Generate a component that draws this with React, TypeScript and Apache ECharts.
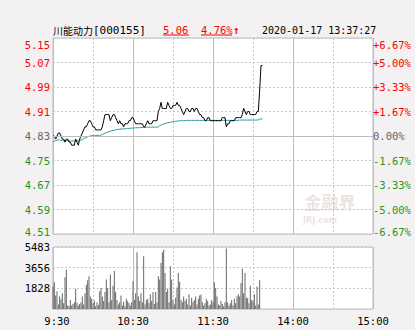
import React, { useEffect, useRef } from 'react';
import * as echarts from 'echarts';

const stockName = '川能动力';
const stockCode = '[000155]';
const lastPrice = '5.06';
const changePct = '4.76%';
const changeArrow = '↑';
const timestamp = '2020-01-17 13:37:27';

const prevClose = 4.83;
const priceMin = 4.51;
const priceMax = 5.15;
const priceStep = 0.08;
const pctLimit = 6.67;
const pctStep = 1.6675;
const volMax = 5483;
const volLabels = ['', '1828', '3656', '5483'];
const timeTickMinutes = [0, 60, 120, 180, 240];
const timeTickLabels = ['9:30', '10:30', '11:30', '14:00', '15:00'];

const priceVals = [
  4.83, 4.83, 4.82, 4.83, 4.84, 4.84, 4.83, 4.82, 4.82, 4.81,
  4.82, 4.82, 4.81, 4.81, 4.80, 4.80, 4.80, 4.82, 4.81, 4.80,
  4.82, 4.83, 4.84, 4.85, 4.86, 4.86, 4.87, 4.88, 4.88, 4.87,
  4.86, 4.86, 4.85, 4.85, 4.85, 4.85, 4.85, 4.86, 4.88, 4.90,
  4.90, 4.90, 4.90, 4.88, 4.89, 4.90, 4.90, 4.89, 4.88, 4.87,
  4.88, 4.87, 4.87, 4.86, 4.87, 4.87, 4.87, 4.88, 4.88, 4.89,
  4.89, 4.88, 4.87, 4.87, 4.87, 4.87, 4.87, 4.87, 4.86, 4.86,
  4.87, 4.88, 4.87, 4.87, 4.87, 4.88, 4.88, 4.88, 4.88, 4.91,
  4.92, 4.94, 4.92, 4.92, 4.92, 4.92, 4.94, 4.93, 4.92, 4.92,
  4.93, 4.93, 4.93, 4.94, 4.93, 4.93, 4.92, 4.91, 4.90, 4.91,
  4.92, 4.92, 4.91, 4.91, 4.92, 4.92, 4.91, 4.92, 4.92, 4.91,
  4.90, 4.90, 4.89, 4.89, 4.88, 4.88, 4.89, 4.89, 4.88, 4.88,
  4.88, 4.88, 4.88, 4.88, 4.88, 4.88, 4.88, 4.89, 4.89, 4.89,
  4.86, 4.87, 4.87, 4.88, 4.88, 4.88, 4.88, 4.89, 4.89, 4.89,
  4.89, 4.89, 4.90, 4.92, 4.91, 4.90, 4.91, 4.91, 4.90, 4.90,
  4.90, 4.90, 4.90, 4.91, 4.91, 4.98, 5.06, 5.06,
];

const avgVals = [
  4.812, 4.813, 4.815, 4.816, 4.818, 4.817, 4.816, 4.816, 4.815, 4.815,
  4.815, 4.815, 4.814, 4.814, 4.814, 4.814, 4.814, 4.814, 4.814, 4.814,
  4.815, 4.817, 4.819, 4.821, 4.823, 4.825, 4.827, 4.829, 4.830, 4.831,
  4.831, 4.831, 4.832, 4.832, 4.832, 4.832, 4.833, 4.835, 4.837, 4.839,
  4.841, 4.842, 4.844, 4.845, 4.847, 4.848, 4.849, 4.850, 4.851, 4.852,
  4.852, 4.853, 4.853, 4.853, 4.854, 4.854, 4.855, 4.855, 4.855, 4.856,
  4.856, 4.856, 4.857, 4.857, 4.857, 4.857, 4.858, 4.858, 4.858, 4.858,
  4.858, 4.859, 4.859, 4.859, 4.859, 4.859, 4.859, 4.859, 4.859, 4.860,
  4.863, 4.866, 4.868, 4.869, 4.871, 4.872, 4.873, 4.874, 4.875, 4.876,
  4.877, 4.878, 4.878, 4.879, 4.879, 4.880, 4.880, 4.880, 4.880, 4.880,
  4.881, 4.881, 4.881, 4.881, 4.881, 4.881, 4.881, 4.881, 4.881, 4.881,
  4.881, 4.881, 4.881, 4.881, 4.881, 4.881, 4.881, 4.881, 4.881, 4.881,
  4.881, 4.881, 4.881, 4.881, 4.881, 4.881, 4.881, 4.881, 4.881, 4.881,
  4.881, 4.881, 4.881, 4.881, 4.881, 4.881, 4.881, 4.881, 4.881, 4.881,
  4.882, 4.882, 4.882, 4.882, 4.882, 4.882, 4.882, 4.882, 4.882, 4.882,
  4.882, 4.882, 4.882, 4.882, 4.883, 4.885, 4.886, 4.886,
];

const volVals = [
  2000, 2360, 1200, 1560, 400, 1100, 850, 1400, 500, 2800,
  3480, 300, 250, 800, 300, 450, 600, 1770, 550, 300,
  450, 600, 1100, 400, 1400, 2150, 2540, 2890, 1100, 900,
  500, 750, 250, 600, 350, 1560, 1860, 1100, 700, 1500,
  2600, 1860, 600, 3040, 800, 2065, 3390, 1500, 800, 400,
  600, 1200, 300, 650, 250, 900, 700, 500, 300, 600,
  2450, 800, 1400, 5015, 1100, 700, 1400, 600, 4660, 400,
  800, 900, 500, 1300, 700, 1500, 450, 1500, 600, 2890,
  2600, 4070, 5015, 5250, 3190, 1500, 1800, 600, 3780, 2600,
  800, 400, 1000, 1900, 3190, 2400, 800, 600, 1100, 700,
  900, 400, 1300, 300, 1000, 600, 800, 1100, 400, 900,
  1200, 1270, 600, 300, 500, 900, 700, 300, 400, 800,
  600, 2360, 1860, 1100, 400, 300, 700, 450, 250, 600,
  5340, 600, 300, 500, 800, 300, 900, 500, 1120, 1300,
  1100, 2300, 3570, 1400, 3190, 1000, 950, 500, 2065, 800,
  700, 1300, 300, 2000, 400, 2540,
];

const MONO = '"DejaVu Sans Mono", monospace';
const CJK = '"Noto Sans CJK SC", sans-serif';
const RED = '#ff0000';
const GREEN = '#1f961f';
const GRAY = '#666666';
const GRID_LINE = '#c8c8c8';
const BORDER = '#bdbdbd';

export default function App() {
  const ref = useRef<HTMLDivElement>(null);

  useEffect(() => {
    if (!ref.current) return;
    const chart = echarts.init(ref.current, undefined, { renderer: 'svg' });

    const richBase = {
      r: { color: RED, fontFamily: MONO, fontSize: 10.5 },
      g: { color: GREEN, fontFamily: MONO, fontSize: 10.5 },
      n: { color: GRAY, fontFamily: MONO, fontSize: 10.5 },
      rt: { color: RED, fontFamily: MONO, fontSize: 10.5, padding: [13, 0, 0, 0] },
      gb: { color: GREEN, fontFamily: MONO, fontSize: 10.5, padding: [0, 0, 5, 0] },
    };

    const eq = (a: number, b: number) => Math.abs(a - b) < 1e-6;

    const priceFmt = (v: number) => {
      const s = v.toFixed(2);
      if (eq(v, prevClose)) return `{n|${s}}`;
      if (eq(v, priceMax)) return `{rt|${s}}`;
      if (eq(v, priceMin)) return `{gb|${s}}`;
      return v > prevClose ? `{r|${s}}` : `{g|${s}}`;
    };

    const pctFmt = (v: number) => {
      if (Math.abs(v) < 1e-6) return '{n|0.00%}';
      const s = Math.abs(v).toFixed(2);
      if (eq(v, pctLimit)) return `{rt|+${s}%}`;
      if (eq(v, -pctLimit)) return `{gb|-${s}%}`;
      return v > 0 ? `{r|+${s}%}` : `{g|-${s}%}`;
    };

    const timeFmt = (v: number) => {
      const i = timeTickMinutes.indexOf(Math.round(v));
      if (i < 0) return '';
      if (i === 0) return `{first|${timeTickLabels[i]}}`;
      return `{t|${timeTickLabels[i]}}`;
    };

    const gridStyle = { show: true, backgroundColor: '#ffffff', borderColor: BORDER, borderWidth: 1 };

    const dashedX = (gridIndex: number) => ({
      type: 'value', gridIndex, min: 0, max: 240, interval: 30, position: 'bottom',
      axisLine: { show: false }, axisTick: { show: false }, axisLabel: { show: false },
      splitLine: { show: true, lineStyle: { color: GRID_LINE, type: [2, 2], width: 1 } },
    });
    const solidX = (gridIndex: number, labels: boolean) => ({
      type: 'value', gridIndex, min: 0, max: 240, interval: 60, position: 'bottom',
      axisLine: { show: false }, axisTick: { show: false },
      axisLabel: labels
        ? {
            show: true, margin: 6, formatter: timeFmt,
            rich: {
              t: { color: '#000', fontFamily: MONO, fontSize: 10.5 },
              first: { color: '#000', fontFamily: MONO, fontSize: 10.5, padding: [0, 0, 0, 8] },
            },
          }
        : { show: false },
      splitLine: { show: true, lineStyle: { color: BORDER, type: 'solid', width: 1 } },
    });

    const option: any = {
      animation: false,
      backgroundColor: '#f3f1f1',
      textStyle: { fontFamily: MONO },
      grid: [
        { left: 53, top: 38, width: 320, height: 196, ...gridStyle },
        { left: 53, top: 247, width: 320, height: 62, ...gridStyle },
      ],
      xAxis: [dashedX(0), solidX(0, false), dashedX(1), solidX(1, true)],
      yAxis: [
        {
          type: 'value', gridIndex: 0, position: 'left', min: priceMin, max: priceMax, interval: priceStep,
          axisLine: { show: false }, axisTick: { show: false },
          axisLabel: { margin: 3, formatter: priceFmt, rich: richBase },
          splitLine: { show: true, lineStyle: { color: GRID_LINE, type: [2, 2], width: 1 } },
        },
        {
          type: 'value', gridIndex: 0, position: 'right', min: -pctLimit, max: pctLimit, interval: pctStep,
          axisLine: { show: false }, axisTick: { show: false },
          axisLabel: { margin: 0, formatter: pctFmt, rich: richBase },
          splitLine: { show: false },
        },
        {
          type: 'value', gridIndex: 1, position: 'left', min: 0, max: volMax, interval: volMax / 3,
          axisLine: { show: false }, axisTick: { show: false },
          axisLabel: {
            margin: 3, color: '#000', fontFamily: MONO, fontSize: 10.5,
            formatter: (_v: number, i: number) => volLabels[i] ?? '',
          },
          splitLine: { show: true, lineStyle: { color: GRID_LINE, type: [2, 2], width: 1 } },
        },
      ],
      series: [
        {
          type: 'line', xAxisIndex: 0, yAxisIndex: 0, data: [], z: 1, silent: true,
          markLine: {
            silent: true, symbol: 'none', label: { show: false },
            lineStyle: { color: BORDER, type: 'solid', width: 1 },
            data: [{ yAxis: prevClose }],
          },
        },
        {
          name: 'avg', type: 'line', xAxisIndex: 0, yAxisIndex: 0, z: 3,
          data: avgVals.map((v, i) => [i, v]), showSymbol: false, symbol: 'none',
          lineStyle: { color: '#2a9a98', width: 1 },
        },
        {
          name: 'price', type: 'line', xAxisIndex: 0, yAxisIndex: 0, z: 4,
          data: priceVals.map((v, i) => [i, v]), showSymbol: false, symbol: 'none',
          lineStyle: { color: '#000000', width: 1 },
        },
        {
          name: 'vol', type: 'bar', xAxisIndex: 2, yAxisIndex: 2,
          data: volVals.map((v, i) => [i, v]), barWidth: 1,
          itemStyle: { color: '#666666' },
        },
      ],
      graphic: [
        {
          type: 'text', x: 330, y: 201, z: 0, silent: true,
          style: { text: '金融界', fill: 'rgba(215,190,190,0.45)', font: `bold 17px ${CJK}`, align: 'center', verticalAlign: 'middle' },
        },
        {
          type: 'text', x: 320, y: 220, z: 0, silent: true,
          style: { text: 'JRJ.com', fill: 'rgba(215,190,190,0.45)', font: 'bold 8px "DejaVu Sans", sans-serif', align: 'center', verticalAlign: 'middle' },
        },
        {
          type: 'text', x: 53, y: 30,
          style: { text: stockName, fill: '#000', font: `10px ${CJK}`, align: 'left', verticalAlign: 'middle' },
        },
        {
          type: 'text', x: 93, y: 30,
          style: { text: stockCode, fill: '#000', font: `11px ${MONO}`, align: 'left', verticalAlign: 'middle' },
        },
        {
          type: 'text', x: 163, y: 30,
          style: { text: lastPrice, fill: RED, font: `10.5px ${MONO}`, align: 'left', verticalAlign: 'middle' },
        },
        {
          type: 'line', shape: { x1: 163, y1: 35, x2: 189, y2: 35 }, style: { stroke: RED, lineWidth: 1 },
        },
        {
          type: 'text', x: 201, y: 30,
          style: { text: changePct, fill: RED, font: `10.5px ${MONO}`, align: 'left', verticalAlign: 'middle' },
        },
        {
          type: 'line', shape: { x1: 201, y1: 35, x2: 232, y2: 35 }, style: { stroke: RED, lineWidth: 1 },
        },
        {
          type: 'text', x: 233, y: 30,
          style: { text: changeArrow, fill: RED, font: `bold 11px ${MONO}`, align: 'left', verticalAlign: 'middle' },
        },
        {
          type: 'text', x: 262, y: 30,
          style: { text: timestamp, fill: '#000', font: `10px ${MONO}`, align: 'left', verticalAlign: 'middle' },
        },
      ],
    };

    chart.setOption(option);
    return () => chart.dispose();
  }, []);

  return (
    <div
      ref={ref}
      style={{ position: 'fixed', left: 0, top: 0, width: 415, height: 330, background: '#f3f1f1' }}
    />
  );
}
